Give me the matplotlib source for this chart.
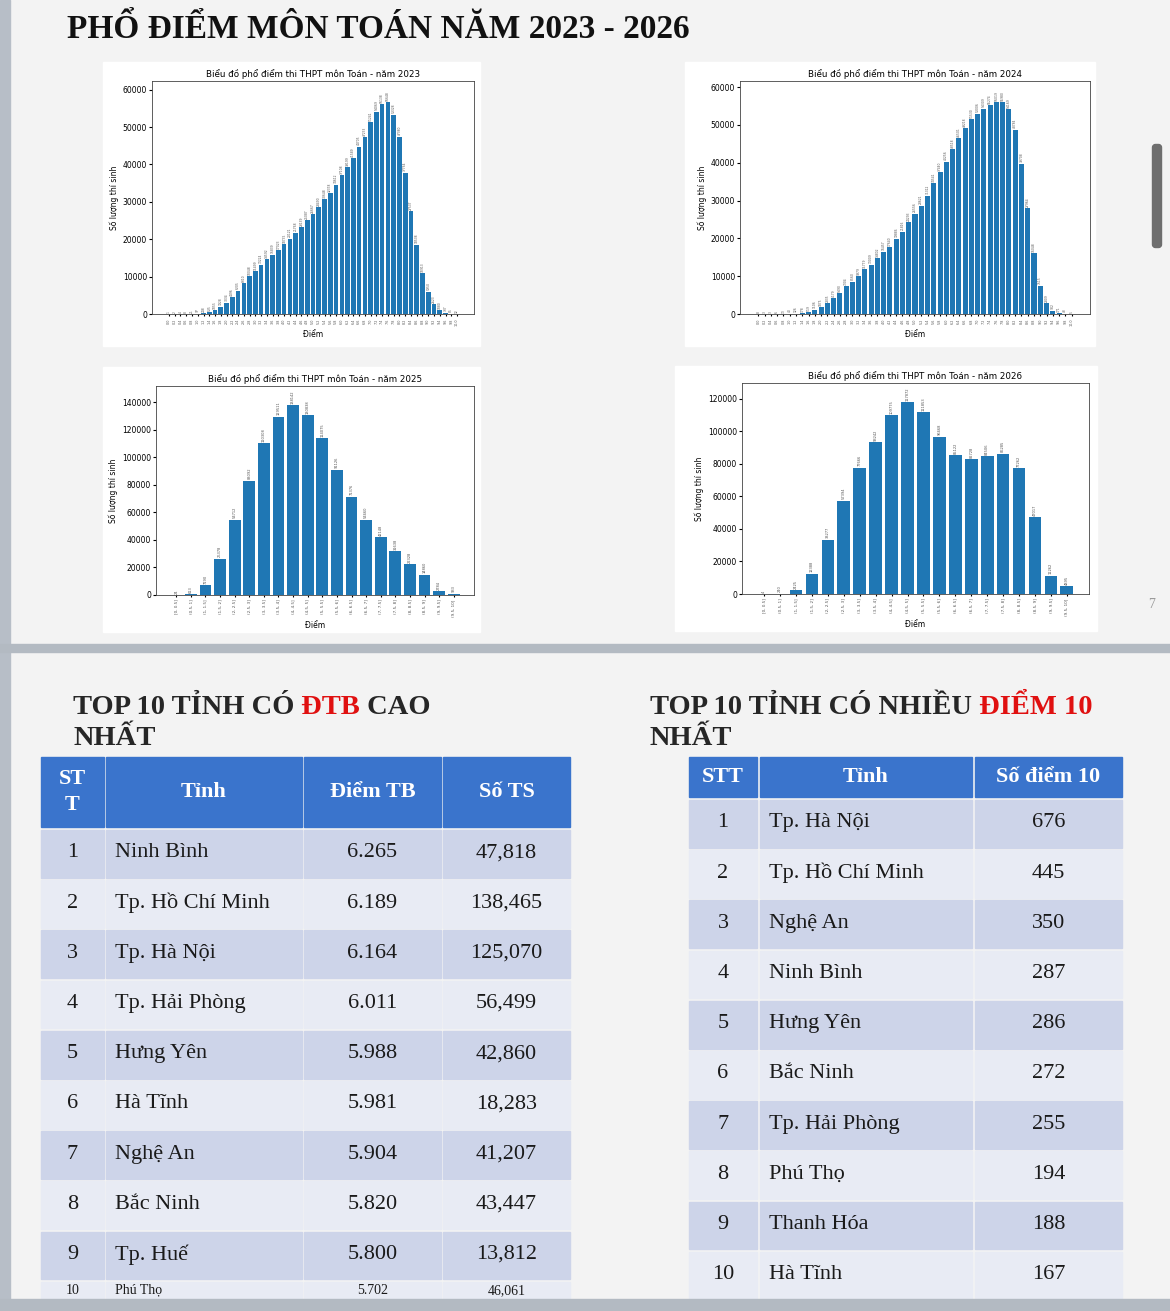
import matplotlib
matplotlib.use("Agg")
import matplotlib.pyplot as plt
from matplotlib.patches import Rectangle, FancyBboxPatch

W, H = 1170, 1311

# ---- data -----------------------------------------------------------------
scores_02 = ["0.0", "0.2", "0.4", "0.6", "0.8", "1.0", "1.2", "1.4", "1.6", "1.8",
             "2.0", "2.2", "2.4", "2.6", "2.8", "3.0", "3.2", "3.4", "3.6", "3.8",
             "4.0", "4.2", "4.4", "4.6", "4.8", "5.0", "5.2", "5.4", "5.6", "5.8",
             "6.0", "6.2", "6.4", "6.6", "6.8", "7.0", "7.2", "7.4", "7.6", "7.8",
             "8.0", "8.2", "8.4", "8.6", "8.8", "9.0", "9.2", "9.4", "9.6", "9.8",
             "10.0"]

counts_2023 = [1, 2, 4, 8, 21, 97, 248, 535, 1055, 1928,
               3034, 4496, 6205, 8310, 10048, 11499, 13224, 14592, 15839, 17023,
               18735, 20121, 21768, 23139, 25087, 26667, 28490, 30648, 32378, 34612,
               37108, 39199, 41589, 44705, 47233, 51241, 54069, 56138, 56648, 53328,
               47380, 37764, 27537, 18538, 10913, 5950, 2623, 1080, 337, 85,
               12]

counts_2024 = [8, 3, 3, 6, 13, 40, 126, 178, 519, 1106,
               1875, 2835, 4179, 5490, 7304, 8560, 9979, 11779, 13009, 14802,
               16457, 17640, 19886, 21816, 24293, 26556, 28621, 31312, 34541, 37440,
               40256, 43518, 46501, 49218, 51530, 53006, 54309, 55274, 56019, 55980,
               54169, 48784, 39708, 27964, 16048, 7515, 2809, 902, 171, 43,
               5]

bins_05 = ["[0, 0.5]", "(0.5, 1]", "(1, 1.5]", "(1.5, 2]", "(2, 2.5]",
           "(2.5, 3]", "(3, 3.5]", "(3.5, 4]", "(4, 4.5]", "(4.5, 5]",
           "(5, 5.5]", "(5.5, 6]", "(6, 6.5]", "(6.5, 7]", "(7, 7.5]",
           "(7.5, 8]", "(8, 8.5]", "(8.5, 9]", "(9, 9.5]", "(9.5, 10]"]

counts_2025 = [24, 613, 7190, 26378, 54712, 83092, 110308, 129511, 138142, 130838,
               114075, 91126, 71376, 54660, 42148, 31638, 22328, 14860, 2784, 933]

counts_2026 = [4, 240, 2425, 12388, 33277, 57394, 77666, 93242, 109775, 117872,
               111853, 96668, 85122, 82728, 84506, 86285, 77262, 47017, 11262, 4895]

avg_stt = ["1", "2", "3", "4", "5", "6", "7", "8", "9", "10"]
avg_province = ["Ninh Bình", "Tp. Hồ Chí Minh", "Tp. Hà Nội", "Tp. Hải Phòng",
                "Hưng Yên", "Hà Tĩnh", "Nghệ An", "Bắc Ninh", "Tp. Huế", "Phú Thọ"]
avg_score = ["6.265", "6.189", "6.164", "6.011", "5.988", "5.981", "5.904",
             "5.820", "5.800", "5.702"]
avg_candidates = ["47,818", "138,465", "125,070", "56,499", "42,860", "18,283",
                  "41,207", "43,447", "13,812", "46,061"]

ten_stt = ["1", "2", "3", "4", "5", "6", "7", "8", "9", "10"]
ten_province = ["Tp. Hà Nội", "Tp. Hồ Chí Minh", "Nghệ An", "Ninh Bình", "Hưng Yên",
                "Bắc Ninh", "Tp. Hải Phòng", "Phú Thọ", "Thanh Hóa", "Hà Tĩnh"]
ten_count = ["676", "445", "350", "287", "286", "272", "255", "194", "188", "167"]

# ---- figure / background ----------------------------------------------------
fig = plt.figure(figsize=(W / 100, H / 100), dpi=100)
fig.patch.set_facecolor("#f3f3f3")
bg = fig.add_axes([0, 0, 1, 1])
bg.set_xlim(0, W)
bg.set_ylim(H, 0)
bg.axis("off")

SERIF = "Liberation Serif"
BLUE = "#3a74cc"
ROW_DARK = "#cdd4e9"
ROW_LIGHT = "#e8ebf4"

bg.add_patch(Rectangle((0, 0), 10, H, color="#b7bec7", zorder=5))
bg.add_patch(Rectangle((0, 644), W, 8, color="#b3bac2", zorder=5))
bg.add_patch(Rectangle((0, 1299), W, 12, color="#b3bac2", zorder=5))
bg.add_patch(FancyBboxPatch((1154, 146), 6, 100, boxstyle="round,pad=1.5,rounding_size=3",
                            color="#6e6e6e", zorder=5))
bg.text(1152, 605, "7", fontsize=10, color="#9a9a9a", family=SERIF, ha="center", va="center")

bg.text(67, 30, "PHỔ ĐIỂM MÔN TOÁN NĂM 2023 - 2026", fontsize=24, fontweight="bold",
        family=SERIF, color="#111111", ha="left", va="center")


# ---- bar charts -------------------------------------------------------------
def px_axes(x0, y0, x1, y1):
    return fig.add_axes([x0 / W, 1 - y1 / H, (x1 - x0) / W, (y1 - y0) / H])


def draw_hist(panel, box, labels, counts, year, tick_fs, label_fs):
    bg.add_patch(Rectangle((panel[0], panel[1]), panel[2] - panel[0], panel[3] - panel[1],
                           color="white", zorder=1))
    ax = px_axes(*box)
    pos = list(range(len(labels)))
    bars = ax.bar(pos, counts, color="#1f77b4", width=0.8)
    ax.bar_label(bars, labels=[str(c) for c in counts], rotation=90, fontsize=label_fs,
                 padding=1, color="#555555")
    ax.set_ylim(0, max(counts) * 1.1)
    ax.set_xticks(pos)
    ax.set_xticklabels(labels, rotation=90, fontsize=tick_fs, color="#555555")
    ax.tick_params(axis="y", labelsize=5.5, length=2, pad=1.5)
    ax.tick_params(axis="x", length=1.5, pad=1.5)
    ax.set_title(f"Biểu đồ phổ điểm thi THPT môn Toán - năm {year}", fontsize=6.3, pad=3)
    ax.set_xlabel("Điểm", fontsize=5.5, labelpad=3)
    ax.set_ylabel("Số lượng thí sinh", fontsize=5.5, labelpad=3)
    for s in ax.spines.values():
        s.set_linewidth(0.6)
        s.set_color("#444444")
    return ax


draw_hist((103, 62, 480, 346), (152, 81, 474, 314), scores_02, counts_2023, 2023, 2.4, 2.2)
draw_hist((685, 62, 1095, 346), (740, 81, 1090, 314), scores_02, counts_2024, 2024, 2.4, 2.2)
draw_hist((103, 367, 480, 632), (156, 386, 474, 595), bins_05, counts_2025, 2025, 3.0, 2.6)
draw_hist((675, 366, 1097, 631), (742, 383, 1089, 594), bins_05, counts_2026, 2026, 3.0, 2.6)


# ---- headings ---------------------------------------------------------------
def heading(x, y, parts):
    prev = None
    for txt, col in parts:
        kw = dict(fontsize=20.5, fontweight="bold", family=SERIF, color=col, va="bottom", ha="left")
        if prev is None:
            prev = bg.text(x, y, txt, **kw)
        else:
            prev = bg.annotate(txt, xy=(1, 0), xycoords=prev, **kw)


DARK = "#262626"
RED = "#e01010"
heading(73, 720, [("TOP 10 TỈNH CÓ", DARK), (" ĐTB", RED), (" CAO", DARK)])
heading(73, 751, [("NHẤT", DARK)])
heading(650, 720, [("TOP 10 TỈNH CÓ NHIỀU", DARK), (" ĐIỂM 10", RED)])
heading(650, 751, [("NHẤT", DARK)])


# ---- tables -----------------------------------------------------------------
def table(cols, head_top, head_bot, headers, columns, aligns, row_top, row_h):
    for (x0, x1), h in zip(cols, headers):
        bg.add_patch(Rectangle((x0, head_top), x1 - x0, head_bot - head_top, color=BLUE, zorder=2))
        bg.text((x0 + x1) / 2, (head_top + head_bot) / 2, h, fontsize=16, fontweight="bold",
                family=SERIF, color="white", ha="center", va="center", linespacing=1.35, zorder=3)
    n = len(columns[0])
    for i in range(n):
        top = row_top + i * row_h
        col = ROW_DARK if i % 2 == 0 else ROW_LIGHT
        # the last left-table row is mostly hidden by the bottom bar: keep its text visible
        bottom = min(top + row_h - 2.5, 1299)
        cy = (top + bottom) / 2 - 1 if bottom - top > 30 else (top + bottom) / 2
        fs = 16 if bottom - top > 30 else 10
        for (x0, x1), vals, al in zip(cols, columns, aligns):
            bg.add_patch(Rectangle((x0, top), x1 - x0, row_h - 2.5, color=col, zorder=2))
            tx = (x0 + x1) / 2 if al == "center" else x0 + 9
            bg.text(tx, cy, vals[i], fontsize=fs, family=SERIF,
                    color="#1a1a1a", ha=al, va="center", zorder=3)


table([(41, 104), (106, 302), (304, 441), (443, 570)], 757, 827,
      ["ST\nT", "Tỉnh", "Điểm TB", "Số TS"],
      [avg_stt, avg_province, avg_score, avg_candidates],
      ["center", "left", "center", "center"], 830, 50.2)

table([(689, 757), (760, 972), (975, 1122)], 757, 797,
      ["STT", "Tỉnh", "Số điểm 10"],
      [ten_stt, ten_province, ten_count],
      ["center", "left", "center"], 800, 50.2)

fig.savefig("out.png", dpi=100, facecolor=fig.get_facecolor())
